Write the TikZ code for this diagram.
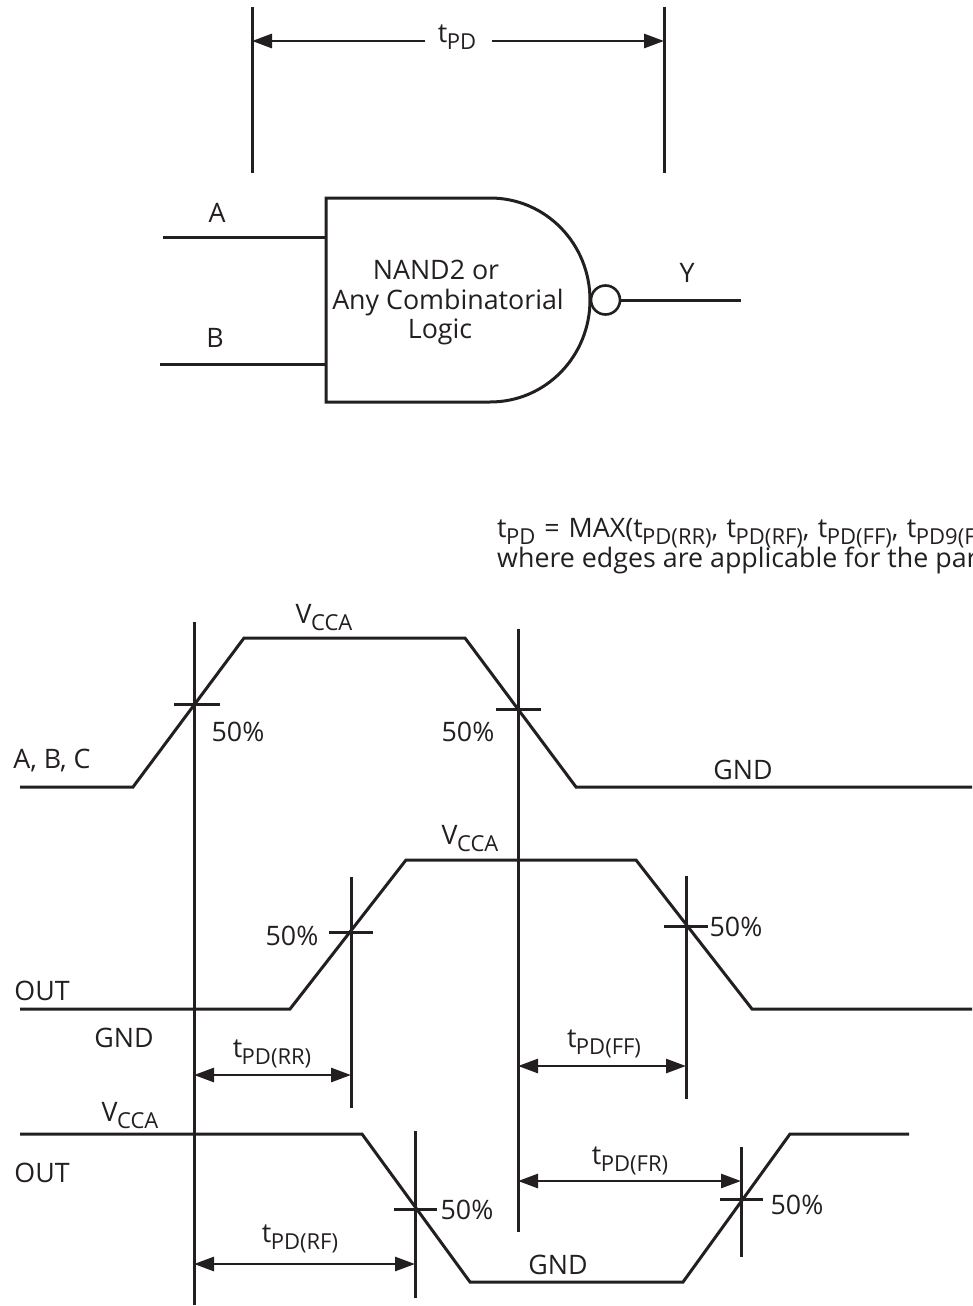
\documentclass[tikz,border=0pt]{standalone}
\usepackage{fontspec}
\setmainfont{Open Sans}
\usetikzlibrary{arrows.meta}
\definecolor{ink}{HTML}{231F20}
\newcommand\subt[2]{#1\kern-0.5pt\raisebox{-7pt}{\fontsize{22}{26}\selectfont #2}}
\tikzset{
 wire/.style={draw=ink,line width=3pt,line join=miter},
 dim/.style={draw=ink,line width=2.8pt,{Triangle[length=20pt,width=14pt]}-{Triangle[length=20pt,width=14pt]}},
 tiphead/.style={draw=ink,line width=2.8pt,-{Triangle[length=20pt,width=14pt]}},
 lbl/.style={text=ink,inner sep=0pt,font=\fontsize{26.8}{32}\selectfont},
 formula/.style={lbl,anchor=base west},
}
\begin{document}
\begin{tikzpicture}[x=1pt,y=-1pt]
\useasboundingbox (0,0) rectangle (972,1306);
% top dimension
\coordinate (pdLt) at (252,7); \coordinate (pdLb) at (252,173);
\coordinate (pdRt) at (664,7); \coordinate (pdRb) at (664,173);
\coordinate (pdLa) at (252,41); \coordinate (pdRa) at (664,41);
\draw[wire] (pdLt) -- (pdLb);
\draw[wire] (pdRt) -- (pdRb);
\node[lbl] (tpd) at (457,37) {\subt{t}{PD}};
\coordinate (pdA) at (425,41); \coordinate (pdB) at (492,41);
\draw[tiphead] (pdA) -- (pdLa);
\draw[tiphead] (pdB) -- (pdRa);
% gate
\draw[wire] (490,198) -- (326,198) -- (326,402) -- (490,402)
  .. controls (546,402) and (590,356) .. (590,300)
  .. controls (590,244) and (546,198) .. (490,198) -- cycle;
\node[draw=ink,line width=2.6pt,circle,minimum size=29pt,inner sep=0pt] (bub) at (605.5,300) {};
\coordinate (ina) at (163,237); \coordinate (inaE) at (326,237);
\coordinate (inb) at (160,364); \coordinate (inbE) at (326,364);
\coordinate (outy) at (741,300);
\draw[wire] (ina) -- (inaE);
\draw[wire] (inb) -- (inbE);
\draw[wire] (bub.east) -- (outy);
\node[lbl] (la) at (217,213) {A};
\node[lbl] (lb) at (215,338) {B};
\node[lbl] (ly) at (687,273) {Y};
\node[lbl] (g1) at (436,270) {NAND2 or};
\node[lbl] (g2) at (448,303) {Any Combinatorial};
\node[lbl] (g3) at (440,332) {Logic};
% formula
\node[formula] (f1) at (497,537) {\subt{t}{PD}\kern2pt{} =\kern2pt{} MAX(\subt{t}{PD(RR)},\kern1.5pt{} \subt{t}{PD(RF)},\kern1.5pt{} \subt{t}{PD(FF)},\kern1.5pt{} \subt{t}{PD9(F}};
\node[formula] (f2) at (497,567) {where edges are applicable for the par};
% verticals
\coordinate (v1t) at (194,622); \coordinate (v1b) at (194,1305);
\coordinate (v2t) at (518,629); \coordinate (v2b) at (518,1232);
\coordinate (v3t) at (351,877); \coordinate (v3b) at (351,1108);
\coordinate (v4t) at (686,876); \coordinate (v4b) at (686,1099);
\coordinate (v5t) at (415,1131); \coordinate (v5b) at (415,1298);
\coordinate (v6t) at (741,1147); \coordinate (v6b) at (741,1257);
\foreach \a/\b in {v1t/v1b,v2t/v2b,v3t/v3b,v4t/v4b,v5t/v5b,v6t/v6b} \draw[wire] (\a) -- (\b);
% ticks
\draw[wire] (174,704) -- (220,704);
\draw[wire] (496,709) -- (541,709);
\draw[wire] (329,932) -- (373,932);
\draw[wire] (664,926) -- (708,926);
\draw[wire] (394,1209) -- (437,1209);
\draw[wire] (720,1199) -- (763,1199);
% waveforms
\draw[wire] (20,787) -- (133,787) -- (244,638) -- (465,638) -- (576,787) -- (972,787);
\draw[wire] (20,1009) -- (290,1009) -- (406,860) -- (636,860) -- (752,1009) -- (972,1009);
\draw[wire] (20,1134) -- (362,1134) -- (470,1282) -- (683,1282) -- (790,1134) -- (909,1134);
% arrows
\coordinate (rrL) at (194,1075); \coordinate (rrR) at (351,1075);
\coordinate (ffL) at (518,1066); \coordinate (ffR) at (686,1066);
\coordinate (frL) at (518,1181); \coordinate (frR) at (741,1181);
\coordinate (rfL) at (194,1264); \coordinate (rfR) at (415,1264);
\draw[dim] (rrL) -- (rrR);
\draw[dim] (ffL) -- (ffR);
\draw[dim] (frL) -- (frR);
\draw[dim] (rfL) -- (rfR);
% labels
\node[lbl] (t1) at (272,1054) {\subt{t}{PD(RR)}};
\node[lbl] (t2) at (604,1044) {\subt{t}{PD(FF)}};
\node[lbl] (t3) at (630,1161) {\subt{t}{PD(FR)}};
\node[lbl] (t4) at (300,1239) {\subt{t}{PD(RF)}};
\node[lbl] (v1) at (324,618) {\subt{V}{CCA}};
\node[lbl] (v2) at (470,839) {\subt{V}{CCA}};
\node[lbl] (v3) at (130,1116) {\subt{V}{CCA}};
\node[lbl] (p1) at (238,732) {50\%};
\node[lbl] (p2) at (468,732) {50\%};
\node[lbl] (p3) at (292,936) {50\%};
\node[lbl] (p4) at (736,927) {50\%};
\node[lbl] (p5) at (467,1210) {50\%};
\node[lbl] (p6) at (797,1205) {50\%};
\node[lbl] (abc) at (52,761) {A, B, C};
\node[lbl] (g4) at (743,770) {GND};
\node[lbl] (g5) at (124,1038) {GND};
\node[lbl] (g6) at (558,1265) {GND};
\node[lbl] (o1) at (42,991) {OUT};
\node[lbl] (o2) at (42,1173) {OUT};
\end{tikzpicture}
\end{document}
